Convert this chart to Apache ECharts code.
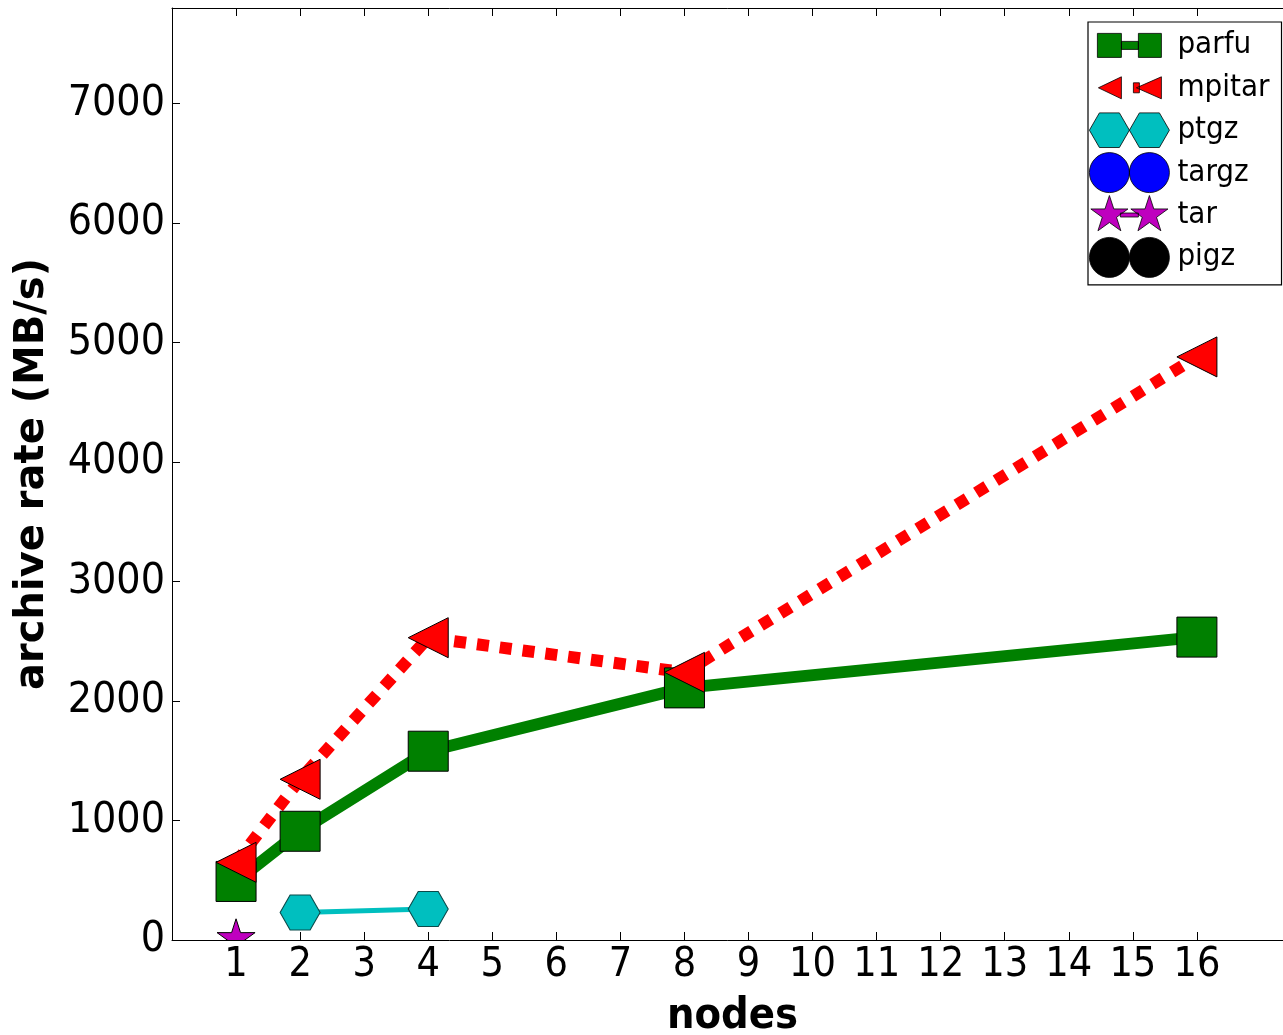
<!DOCTYPE html>
<html>
<head>
<meta charset="utf-8">
<script src="https://cdn.jsdelivr.net/npm/echarts@6/dist/echarts.min.js"></script>
<style>html,body{margin:0;padding:0;background:#fff;overflow:hidden}#c{position:absolute;left:0;top:0;width:1283px;height:1035px}</style>
</head>
<body>
<div id="c"></div>
<script>
// ---- data ----
const nodes = [1, 2, 4, 8, 16];
const parfu = [490, 910, 1580, 2110, 2535];
const mpitar = [650, 1345, 2530, 2240, 4880];
const ptgzNodes = [2, 4];
const ptgz = [230, 260];
const tarNodes = [1];
const tar = [10];
const targz = [];
const pigz = [];
const seriesNames = ['parfu', 'mpitar', 'ptgz', 'targz', 'tar', 'pigz'];
const xTickValues = [1, 2, 3, 4, 5, 6, 7, 8, 9, 10, 11, 12, 13, 14, 15, 16];
const yTickValues = [0, 1000, 2000, 3000, 4000, 5000, 6000, 7000];

// ---- styling helpers ----
function starPts(cx, cy, R, r) {
  const pts = [];
  for (let i = 0; i < 10; i++) {
    const a = -Math.PI / 2 + i * Math.PI / 5;
    const rad = i % 2 === 0 ? R : r;
    pts.push([cx + rad * Math.cos(a), cy + rad * Math.sin(a)]);
  }
  return pts;
}
function ptsPath(pts) {
  return 'M' + pts.map(p => p[0].toFixed(2) + ' ' + p[1].toFixed(2)).join(' L') + ' Z';
}
const BOX = 'M0 0 L0 0 M80 40 L80 40 ';
function rectP(x0, y0, x1, y1) { return `M${x0} ${y0} L${x1} ${y0} L${x1} ${y1} L${x0} ${y1} Z `; }
function circP(cx, cy, r) { return `M${cx - r} ${cy} A${r} ${r} 0 1 1 ${cx + r} ${cy} A${r} ${r} 0 1 1 ${cx - r} ${cy} Z `; }
function hexP(x0) { return `M${x0} 20 L${x0 + 10} 2.68 L${x0 + 30} 2.68 L${x0 + 40} 20 L${x0 + 30} 37.32 L${x0 + 10} 37.32 Z `; }
function triP(x0, x1) { return `M${x0} 20 L${x1} 9 L${x1} 31 Z `; }

const icons = {
  parfu: 'path://' + BOX + rectP(8, 8, 32, 32) + rectP(32, 16, 49, 24) + rectP(49, 8, 72, 32),
  mpitar: 'path://' + BOX + triP(9, 32) + rectP(44, 15, 50, 25) + triP(47, 72),
  ptgz: 'path://' + BOX + hexP(0) + hexP(40),
  targz: 'path://' + BOX + circP(20, 20, 20) + circP(60, 20, 20),
  tar: 'path://' + BOX + ptsPath(starPts(20, 20, 19.5, 7.5)) + ' ' + rectP(31, 18, 49, 22) + ptsPath(starPts(60, 20, 19.5, 7.5)),
  pigz: 'path://' + BOX + circP(20, 20, 20) + circP(60, 20, 20)
};
const colors = { parfu: '#008000', mpitar: '#ff0000', ptgz: '#00bfbf', targz: '#0000ff', tar: '#bf00bf', pigz: '#000000' };
const hexSymbol = 'path://M0 17.32 L10 0 L30 0 L40 17.32 L30 34.64 L10 34.64 Z';

const zip = (xs, ys) => xs.map((x, i) => [x, ys[i]]);
const FONT = 'DejaVu Sans Condensed';

const chart = echarts.init(document.getElementById('c'), null, { renderer: 'canvas' });
const axisCommon = {
  type: 'value', min: 0, max: 17.5, interval: 1,
  axisLine: { show: true, onZero: false, lineStyle: { color: '#000', width: 1 } },
  axisTick: { show: true, inside: true, length: 8, customValues: xTickValues, lineStyle: { color: '#000', width: 1 } },
  splitLine: { show: false }
};
chart.setOption({
  animation: false,
  backgroundColor: '#fff',
  grid: { left: 172, right: -10, top: 8, bottom: 95, containLabel: false, outerBoundsMode: 'none' },
  legend: {
    orient: 'vertical', left: 1088, top: 22,
    itemWidth: 80, itemHeight: 40, itemGap: 1.6,
    padding: [3, 12, 7, 1],
    borderColor: '#000', borderWidth: 1.2, backgroundColor: '#fff',
    selectedMode: false,
    textStyle: { fontFamily: FONT, fontSize: 31, color: '#000', padding: [0, 0, 0, 3] },
    data: seriesNames.map(n => ({
      name: n, icon: icons[n],
      itemStyle: { color: colors[n], borderColor: '#000', borderWidth: 0.8 }
    }))
  },
  xAxis: [
    Object.assign({}, axisCommon, {
      position: 'bottom',
      axisLabel: { show: true, customValues: xTickValues, margin: 5, fontFamily: FONT, fontSize: 41, color: '#000' },
      name: 'nodes', nameLocation: 'middle', nameGap: 55,
      nameTextStyle: { fontFamily: FONT, fontWeight: 'bold', fontSize: 43, color: '#000' }
    }),
    Object.assign({}, axisCommon, { position: 'top', axisLabel: { show: false } })
  ],
  yAxis: [{
    type: 'value', min: 0, max: 7800, interval: 1000,
    axisLine: { show: true, lineStyle: { color: '#000', width: 1 } },
    axisTick: { show: true, inside: true, length: 8, customValues: yTickValues, lineStyle: { color: '#000', width: 1 } },
    axisLabel: { show: true, customValues: yTickValues, margin: 7, fontFamily: FONT, fontSize: 42.5, color: '#000',
      formatter: v => String(v) },
    splitLine: { show: false },
    name: 'archive rate (MB/s)', nameLocation: 'middle', nameGap: 119, nameRotate: 90,
    nameTextStyle: { fontFamily: 'DejaVu Sans', fontWeight: 'bold', fontSize: 40, color: '#000' }
  }],
  series: [
    {
      name: 'parfu', type: 'line', data: zip(nodes, parfu),
      symbol: 'rect', symbolSize: 40,
      lineStyle: { color: colors.parfu, width: 12 },
      itemStyle: { color: colors.parfu, borderColor: '#000', borderWidth: 1 }
    },
    {
      name: 'mpitar', type: 'line', data: zip(nodes, mpitar),
      symbol: 'triangle', symbolSize: 40, symbolRotate: 90,
      lineStyle: { color: colors.mpitar, width: 12, type: [12, 11], cap: 'butt' },
      itemStyle: { color: colors.mpitar, borderColor: '#000', borderWidth: 1 }
    },
    {
      name: 'ptgz', type: 'line', data: zip(ptgzNodes, ptgz),
      symbol: hexSymbol, symbolSize: [40, 35],
      lineStyle: { color: colors.ptgz, width: 5 },
      itemStyle: { color: colors.ptgz, borderColor: '#0a4a4a', borderWidth: 1 }
    },
    {
      name: 'targz', type: 'line', data: targz,
      symbol: 'circle', symbolSize: 40,
      lineStyle: { color: colors.targz, width: 5 },
      itemStyle: { color: colors.targz, borderColor: '#000', borderWidth: 1 }
    },
    {
      name: 'tar', type: 'custom', clip: true,
      data: zip(tarNodes, tar),
      encode: { x: 0, y: 1 },
      itemStyle: { color: colors.tar },
      renderItem: function (params, api) {
        const p = api.coord([api.value(0), api.value(1)]);
        return {
          type: 'polygon',
          shape: { points: starPts(p[0], p[1], 20, 7.6) },
          style: { fill: colors.tar, stroke: '#000', lineWidth: 1 }
        };
      }
    },
    {
      name: 'pigz', type: 'line', data: pigz,
      symbol: 'circle', symbolSize: 40,
      lineStyle: { color: colors.pigz, width: 5 },
      itemStyle: { color: colors.pigz, borderColor: '#000', borderWidth: 1 }
    }
  ]
});
</script>
</body>
</html>
